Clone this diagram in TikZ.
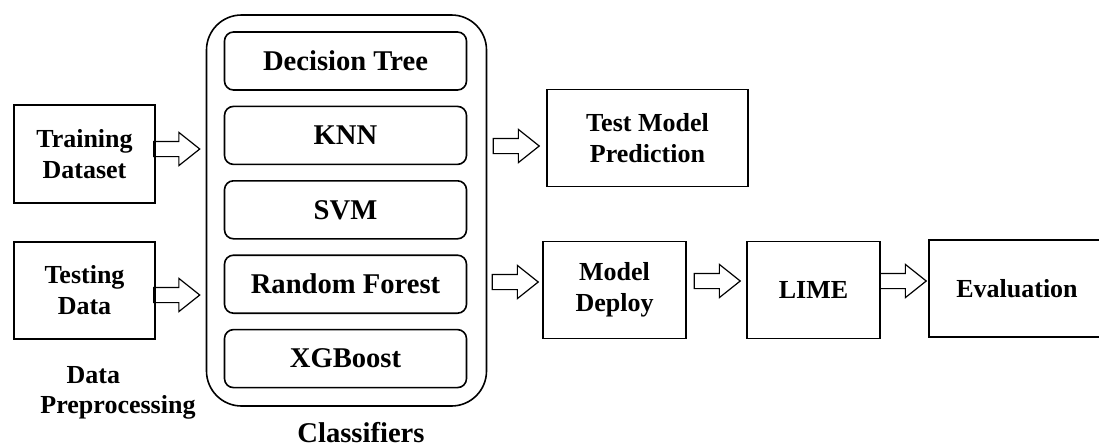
\documentclass[tikz,border=0pt]{standalone}
\usepackage{fontspec}
\setmainfont{Liberation Serif}
\usepackage{tikz}
\usetikzlibrary{shapes.arrows,positioning}

\tikzset{
  lbl/.style={font=\fontsize{13}{15.5}\selectfont\bfseries, align=center},
  stagebox/.style={lbl, draw, line width=0.8pt, inner sep=0pt, minimum height=48.5pt},
  clfbox/.style={draw, line width=0.8pt, rounded corners=4.5pt, inner sep=0pt,
    minimum width=121pt, minimum height=29pt, font=\fontsize{14.3}{17}\selectfont\bfseries},
  fatarrow/.style={draw, line width=0.6pt, single arrow, inner xsep=0pt, inner ysep=3.5pt,
    minimum height=23pt, minimum width=16pt, single arrow head extend=4.5pt,
    single arrow tip angle=77, anchor=tip}
}

\begin{document}
\begin{tikzpicture}[x=0.5pt,y=-0.5pt]
\useasboundingbox (0,0) rectangle (1099,446);

% data preprocessing
\node[stagebox, minimum width=70.5pt, minimum height=49pt] (train) at (84.5,154) {Training\\Dataset};
\node[stagebox, minimum width=70.5pt] (testing) at (84.5,290.5) {Testing\\Data};
\node[lbl, font=\fontsize{13}{15}\selectfont\bfseries] (prep) at (118,392.5) {Data\hspace*{1.9em}\\Preprocessing};

% classifiers
\node[draw, line width=0.8pt, rounded corners=17.5pt, minimum width=140pt, minimum height=195.5pt] (cls) at (346.5,210.5) {};
\foreach \nm/\txt [count=\i from 0] in {dt/Decision Tree, knn/KNN, svm/SVM, rf/Random Forest, xgb/XGBoost}
  \node[clfbox] (\nm) at (345.5,61+74.4*\i) {\txt};
\node[lbl, font=\fontsize{14.3}{17}\selectfont\bfseries, anchor=base] (clslbl) at (361,442) {Classifiers};

% outputs
\node[stagebox, minimum width=100.5pt] (predict) at (647.5,138) {Test Model\\Prediction};
\node[stagebox, minimum width=71.5pt] (deploy) at (614.5,290) {Model\\Deploy};
\node[stagebox, minimum width=66.5pt] (lime) at (813.5,290) {LIME};
\node[stagebox, minimum width=88pt] (eval) at (1017,288.5) {Evaluation};

% arrows
\node[fatarrow] (a1) at ([xshift=-2.5pt,yshift=2.5pt]cls.west |- train) {};
\node[fatarrow] (a2) at ([xshift=-2.5pt,yshift=-2.25pt]cls.west |- testing) {};
\node[fatarrow] (a3) at ([xshift=-3pt,yshift=-4pt]predict.west) {};
\node[fatarrow] (a4) at ([xshift=-1.5pt,yshift=4pt]deploy.west) {};
\node[fatarrow] (a5) at ([xshift=-2.5pt,yshift=4.5pt]lime.west) {};
\node[fatarrow] (a6) at ([xshift=-0.5pt,yshift=3.75pt]eval.west) {};
\end{tikzpicture}
\end{document}
